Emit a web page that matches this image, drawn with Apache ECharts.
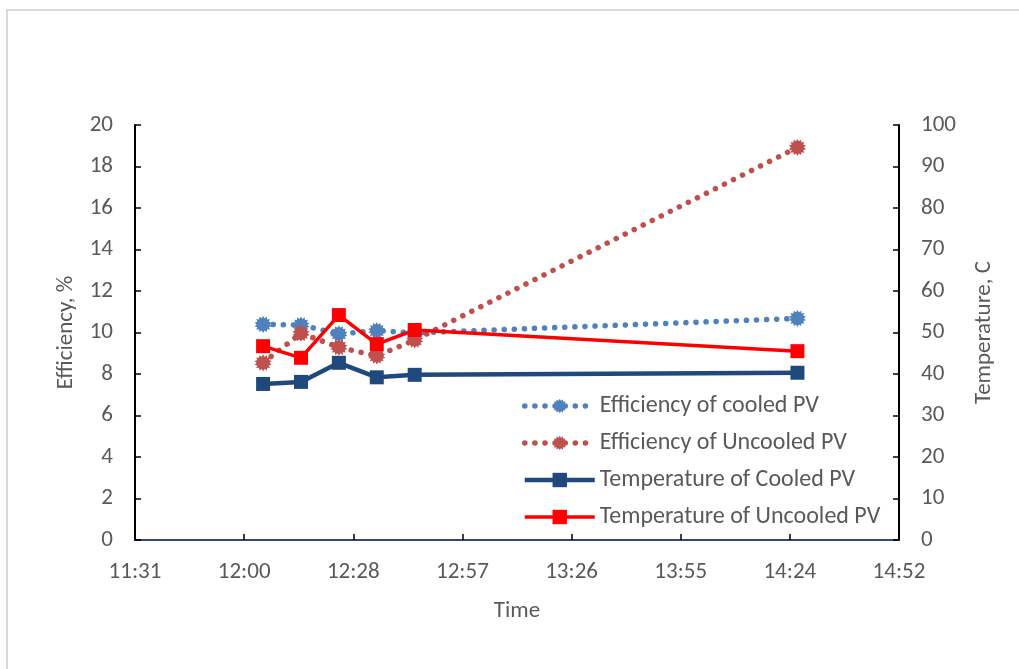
<!DOCTYPE html>
<html>
<head>
<meta charset="utf-8">
<title>PV efficiency and temperature</title>
<script src="https://cdn.jsdelivr.net/npm/echarts@6/dist/echarts.min.js"></script>
<style>
  html, body { margin: 0; padding: 0; background: #ffffff; }
  #chart { width: 1019px; height: 669px; }
</style>
</head>
<body>
<div id="chart"></div>
<script>
// Measurement times (clock time)
const times = ['12:05', '12:15', '12:25', '12:35', '12:45', '14:26'];

// Efficiency, %
const effCooled   = [10.39, 10.36, 9.93, 10.09, 9.98, 10.68];
const effUncooled = [8.54, 9.96, 9.29, 8.87, 9.64, 18.92];

// Temperature, C
const tempCooled   = [37.6, 38.1, 42.7, 39.2, 39.8, 40.3];
const tempUncooled = [46.7, 43.9, 54.2, 47.2, 50.6, 45.5];

const seriesNames = [
  'Efficiency of cooled PV',
  'Efficiency of Uncooled PV',
  'Temperature of Cooled PV',
  'Temperature of Uncooled PV'
];

// Time axis runs in hundredths of a day, like a spreadsheet date serial
const xMin = 48, xMax = 62, xStep = 2;

function toDayHundredths(t) {
  const [h, m] = t.split(':').map(Number);
  return (h * 60 + m) / 1440 * 100;
}
function fmtClock(v) {
  const mins = Math.round(v / 100 * 1440 * 10) / 10;
  const h = Math.floor(mins / 60);
  const m = Math.floor(mins - h * 60 + 1e-6);
  return h + ':' + String(m).padStart(2, '0');
}
const xs = times.map(toDayHundredths);
const pairs = vals => xs.map((x, i) => [x, vals[i]]);

// Many-pointed star marker, drawn as a path
function starPath(points, inner) {
  let d = '';
  for (let i = 0; i < points * 2; i++) {
    const r = i % 2 === 0 ? 10 : 10 * inner;
    const a = Math.PI * i / points - Math.PI / 2;
    const px = (10 + r * Math.cos(a)).toFixed(2);
    const py = (10 + r * Math.sin(a)).toFixed(2);
    d += (i === 0 ? 'M' : 'L') + px + ' ' + py + ' ';
  }
  return 'path://' + d + 'Z';
}
const star = starPath(14, 0.74);

const FONT = 'Carlito, Lato, "Open Sans", sans-serif';
const TXT = '#595959';
const TICK_FS = 23;
const NAME_FS = 23;

const BLUE = '#4f81bd', BRICK = '#c0504d', NAVY = '#1f497d', RED = '#ff0000';
const dotted = (color) => ({ color: color, width: 5.5, type: [0.1, 10], cap: 'round' });

const chart = echarts.init(document.getElementById('chart'), null, { renderer: 'canvas' });

chart.setOption({
  backgroundColor: '#ffffff',
  animation: false,
  textStyle: { fontFamily: FONT, color: TXT },
  graphic: [{
    type: 'rect',
    shape: { x: 7, y: 10, width: 1100, height: 800 },
    style: { fill: 'none', stroke: '#d9d9d9', lineWidth: 2 },
    silent: true
  }],
  grid: { left: 135, right: 120, top: 125, bottom: 129, containLabel: false },
  legend: {
    orient: 'vertical',
    left: 517,
    top: 389,
    itemWidth: 70,
    itemHeight: 18,
    itemGap: 13,
    textStyle: { fontFamily: FONT, fontSize: 24, lineHeight: 22, color: TXT },
    data: [
      { name: seriesNames[0], lineStyle: dotted(BLUE) },
      { name: seriesNames[1], lineStyle: dotted(BRICK) },
      { name: seriesNames[2], lineStyle: { color: NAVY, width: 4.5 } },
      { name: seriesNames[3], lineStyle: { color: RED, width: 3.5 } }
    ]
  },
  xAxis: [{
    type: 'value',
    min: xMin, max: xMax, interval: xStep,
    position: 'bottom',
    name: 'Time',
    nameLocation: 'middle',
    nameGap: 60,
    nameTextStyle: { fontSize: NAME_FS, color: TXT, fontFamily: FONT },
    axisLine: { show: true, lineStyle: { color: '#000000', width: 2 } },
    axisTick: { show: true, inside: true, length: 6, lineStyle: { color: '#000000', width: 1.5 } },
    axisLabel: { formatter: fmtClock, fontSize: TICK_FS, color: TXT, margin: 21, fontFamily: FONT },
    splitLine: { show: false }
  }, {
    type: 'value',
    min: xMin, max: xMax, interval: xStep,
    position: 'top',
    axisLine: { show: true, lineStyle: { color: '#2f4b73', width: 2 } },
    axisTick: { show: false },
    axisLabel: { show: false },
    splitLine: { show: false }
  }],
  yAxis: [{
    type: 'value',
    min: 0, max: 20, interval: 2,
    position: 'left',
    name: 'Efficiency, %',
    nameLocation: 'middle',
    nameRotate: 90,
    nameGap: 57,
    nameTextStyle: { fontSize: NAME_FS, color: TXT, fontFamily: FONT },
    axisLine: { show: true, lineStyle: { color: '#000000', width: 2 } },
    axisTick: { show: true, inside: true, length: 6, lineStyle: { color: '#000000', width: 1.5 } },
    axisLabel: { fontSize: TICK_FS, color: TXT, margin: 22, fontFamily: FONT },
    splitLine: { show: false }
  }, {
    type: 'value',
    min: 0, max: 100, interval: 10,
    position: 'right',
    name: 'Temperature, C',
    nameLocation: 'middle',
    nameRotate: 90,
    nameGap: 74,
    nameTextStyle: { fontSize: NAME_FS, color: TXT, fontFamily: FONT },
    axisLine: { show: true, lineStyle: { color: '#000000', width: 2 } },
    axisTick: { show: true, inside: true, length: 6, lineStyle: { color: '#000000', width: 1.5 } },
    axisLabel: { fontSize: TICK_FS, color: TXT, margin: 22, fontFamily: FONT },
    splitLine: { show: false }
  }],
  series: [{
    name: seriesNames[0],
    type: 'line',
    xAxisIndex: 0, yAxisIndex: 0,
    data: pairs(effCooled),
    symbol: star,
    symbolSize: 17,
    itemStyle: { color: BLUE },
    lineStyle: dotted(BLUE)
  }, {
    name: seriesNames[1],
    type: 'line',
    xAxisIndex: 0, yAxisIndex: 0,
    data: pairs(effUncooled),
    symbol: star,
    symbolSize: 17,
    itemStyle: { color: BRICK },
    lineStyle: dotted(BRICK)
  }, {
    name: seriesNames[2],
    type: 'line',
    xAxisIndex: 0, yAxisIndex: 1,
    data: pairs(tempCooled),
    symbol: 'rect',
    symbolSize: 14,
    itemStyle: { color: NAVY },
    lineStyle: { color: NAVY, width: 4.5 }
  }, {
    name: seriesNames[3],
    type: 'line',
    xAxisIndex: 0, yAxisIndex: 1,
    data: pairs(tempUncooled),
    symbol: 'rect',
    symbolSize: 14,
    itemStyle: { color: RED },
    lineStyle: { color: RED, width: 3.5 }
  }]
});
</script>
</body>
</html>
